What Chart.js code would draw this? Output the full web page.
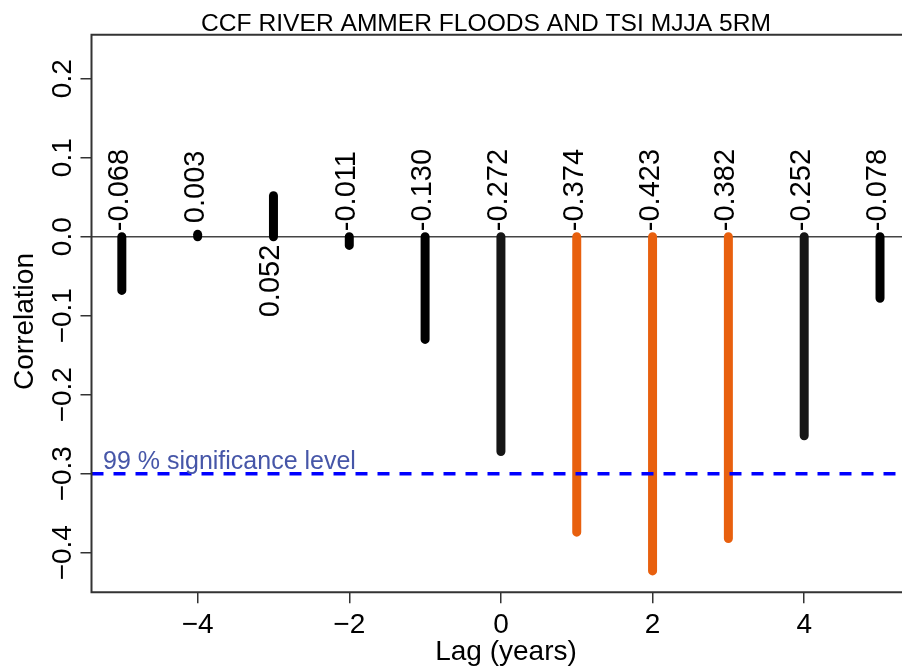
<!DOCTYPE html>
<html>
<head>
<meta charset="utf-8">
<script src="https://cdn.jsdelivr.net/npm/chart.js@4.4.1/dist/chart.umd.min.js"></script>
<style>
html,body{margin:0;padding:0;background:#fff;overflow:hidden}
#wrap{width:902px;height:667px;position:relative}
canvas{display:block}
</style>
</head>
<body>
<div id="wrap"><canvas id="c" width="902" height="667"></canvas></div>
<script>
// ---- data ----
const titleText = 'CCF RIVER AMMER FLOODS AND TSI MJJA 5RM';
const lags = [-5, -4, -3, -2, -1, 0, 1, 2, 3, 4, 5];
const correlations = [-0.068, 0.003, 0.052, -0.011, -0.130, -0.272, -0.374, -0.423, -0.382, -0.252, -0.078];
const xTicks = [-4, -2, 0, 2, 4];
const yTicks = [-0.4, -0.3, -0.2, -0.1, 0.0, 0.1, 0.2];
const significanceLevel = -0.3;
const significanceLabel = '99 % significance level';
const xTitle = 'Lag (years)';
const yTitle = 'Correlation';
const xRange = [-5.4, 5.29];
const yRange = [-0.4501, 0.2557];

// ---- styling ----
const FONT = '"Liberation Sans", Arial, Helvetica, sans-serif';
const ORANGE = '#e8600e';
function barColor(v) {
  if (Math.abs(v) > Math.abs(significanceLevel)) return ORANGE;
  return Math.abs(v) > 0.2 ? '#161616' : '#000000';
}
function fmtVal(v) { return (v < 0 ? '-' : ' ') + Math.abs(v).toFixed(3); }
function fmtTick(v) {
  const s = Math.abs(v).toFixed(1);
  return (v < -1e-9 ? '\u2212' : '') + s;
}
function fmtXTick(v) { return (v < 0 ? '\u2212' : '') + Math.abs(v); }

const datasets = [];
datasets.push({
  label: 'significance',
  data: [{x: xRange[0], y: significanceLevel}, {x: xRange[1], y: significanceLevel}],
  borderColor: '#0000ff', borderWidth: 3.5, borderDash: [12, 10],
  pointRadius: 0, fill: false, tension: 0
});
lags.forEach((lag, i) => {
  const v = correlations[i];
  datasets.push({
    label: 'lag ' + lag,
    data: [{x: lag, y: 0}, {x: lag, y: v}],
    borderColor: barColor(v), borderWidth: 9, borderCapStyle: 'round',
    pointRadius: 0, fill: false, tension: 0
  });
});

function rotText(ctx, text, x, y, align, baseline) {
  ctx.save();
  ctx.translate(x, y);
  ctx.rotate(-Math.PI / 2);
  ctx.textAlign = align;
  ctx.textBaseline = baseline;
  ctx.fillText(text, 0, 0);
  ctx.restore();
}

const decor = {
  id: 'decor',
  beforeDatasetsDraw(chart) {
    const {ctx, chartArea: a, scales: {y}} = chart;
    const y0 = y.getPixelForValue(0);
    ctx.save();
    ctx.strokeStyle = '#444';
    ctx.lineWidth = 1.5;
    ctx.beginPath();
    ctx.moveTo(a.left, y0);
    ctx.lineTo(a.right, y0);
    ctx.stroke();
    ctx.restore();
  },
  afterDatasetsDraw(chart) {
    const {ctx, scales: {x, y}} = chart;
    const y0 = y.getPixelForValue(0);
    ctx.save();
    ctx.fillStyle = '#000';
    ctx.font = '29px ' + FONT;
    lags.forEach((lag, i) => {
      const v = correlations[i];
      const px = x.getPixelForValue(lag) - 2;
      if (v < 0.01) rotText(ctx, fmtVal(v), px, y0 - 5.5, 'left', 'middle');
      else rotText(ctx, fmtVal(v), px, y0 + 8, 'right', 'middle');
    });
    // significance label
    ctx.fillStyle = '#4656a8';
    ctx.font = '25px ' + FONT;
    ctx.textAlign = 'left';
    ctx.textBaseline = 'alphabetic';
    ctx.fillText(significanceLabel, x.getPixelForValue(xRange[0]) + 11.5, y.getPixelForValue(significanceLevel) - 4.5);
    ctx.restore();
  },
  afterDraw(chart) {
    const {ctx, chartArea: a, scales: {x, y}, width} = chart;
    ctx.save();
    // frame (left, top, bottom)
    ctx.strokeStyle = '#333';
    ctx.lineWidth = 2;
    ctx.beginPath();
    ctx.moveTo(width + 2, a.top);
    ctx.lineTo(a.left, a.top);
    ctx.lineTo(a.left, a.bottom);
    ctx.lineTo(width + 2, a.bottom);
    ctx.stroke();
    // tick labels
    ctx.fillStyle = '#000';
    ctx.font = '28px ' + FONT;
    yTicks.forEach(v => rotText(ctx, fmtTick(v), a.left - 20.5, y.getPixelForValue(v), 'center', 'alphabetic'));
    ctx.textAlign = 'center';
    ctx.textBaseline = 'alphabetic';
    xTicks.forEach(v => ctx.fillText(fmtXTick(v), x.getPixelForValue(v), a.bottom + 41));
    // axis titles
    ctx.fillText(xTitle, 506, a.bottom + 68);
    rotText(ctx, yTitle, 33, 321.5, 'center', 'alphabetic');
    // main title
    ctx.font = '24.6px ' + FONT;
    ctx.fillText(titleText, 486, 31);
    ctx.restore();
  }
};

const tickGrid = {display: true, drawOnChartArea: false, drawTicks: true, tickLength: 11, color: '#333', lineWidth: 1.5};

new Chart(document.getElementById('c'), {
  type: 'line',
  data: {datasets},
  options: {
    responsive: false,
    animation: false,
    events: [],
    layout: {padding: {left: 80.5, top: 34.7, right: 0, bottom: 63.7}},
    plugins: {legend: {display: false}, tooltip: {enabled: false}, title: {display: false}},
    scales: {
      x: {
        type: 'linear', position: 'bottom', min: xRange[0], max: xRange[1],
        afterBuildTicks: s => { s.ticks = xTicks.map(v => ({value: v})); },
        ticks: {display: false},
        grid: tickGrid,
        border: {display: false}
      },
      y: {
        type: 'linear', position: 'left', min: yRange[0], max: yRange[1],
        afterBuildTicks: s => { s.ticks = yTicks.map(v => ({value: v})); },
        ticks: {display: false},
        grid: tickGrid,
        border: {display: false}
      }
    }
  },
  plugins: [decor]
});
</script>
</body>
</html>
